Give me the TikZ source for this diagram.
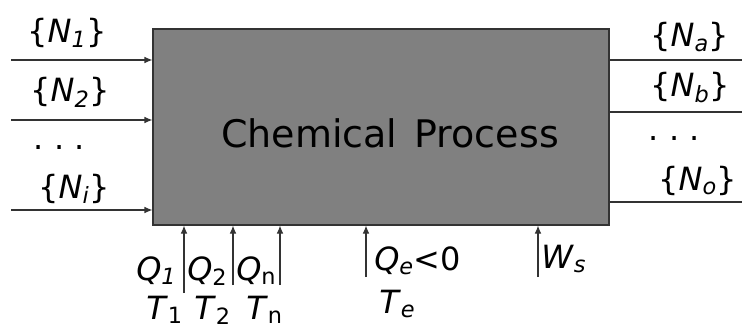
\documentclass[tikz,border=0pt]{standalone}
\usepackage{fontspec}
\setmainfont{DejaVu Sans}
\usetikzlibrary{arrows.meta}
\definecolor{linecol}{HTML}{333333}
\definecolor{boxcol}{HTML}{808080}
\tikzset{
  procbox/.style={draw=linecol, fill=boxcol, line width=0.8pt, inner sep=0pt},
  flow/.style={draw=linecol, line width=0.8pt, -{Latex[length=6pt,width=5pt]}},
  stream/.style={draw=linecol, line width=0.8pt},
  lab/.style={font=\fontsize{24}{27}\selectfont, inner sep=0pt, anchor=base west},
}
\newcommand{\spec}[2]{\{\textit{#1}\textsubscript{\textit{#2}}\}}
\newcommand{\qty}[2]{\textit{#1}\textsubscript{#2}}
\begin{document}
\begin{tikzpicture}[x=0.75pt, y=-0.75pt]
	\useasboundingbox (0,0) rectangle (742,328);
	\node (proc) [procbox, minimum width=342pt, minimum height=147pt] at (381,127) {};
	\node (title) [font=\fontsize{28.5}{32}\selectfont] at (390,133) {Chemical\hspace{0.45em}Process};
	
	% feeds in
	\coordinate (f1) at (11,60);
	\coordinate (f2) at (11,120);
	\coordinate (fi) at (11,210);
	\draw[flow] (f1) -- (f1 -| proc.west);
	\draw[flow] (f2) -- (f2 -| proc.west);
	\draw[flow] (fi) -- (fi -| proc.west);
	\node (n1) [lab] at (27,43) {\spec{N}{1}};
	\node (n2) [lab] at (30,102) {\spec{N}{2}};
	\node (nd) [lab] at (33,149) {.\,\,.\,\,.};
	\node (ni) [lab] at (38,198) {\spec{N}{i}};
	
	% products out
	\coordinate (pa) at (742,60);
	\coordinate (pb) at (742,112);
	\coordinate (po) at (742,202);
	\draw[stream] (pa -| proc.east) -- (pa);
	\draw[stream] (pb -| proc.east) -- (pb);
	\draw[stream] (po -| proc.east) -- (po);
	\node (na) [lab] at (650,47) {\spec{N}{a}};
	\node (nb) [lab] at (650,97) {\spec{N}{b}};
	\node (ndr) [lab] at (648,140) {.\,\,.\,\,.};
	\node (no) [lab] at (658,190) {\spec{N}{o}};
	
	% heat and work
	\coordinate (h1) at (184,293);
	\coordinate (h2) at (233,285);
	\coordinate (hn) at (280,285);
	\coordinate (he) at (366,277);
	\coordinate (ws) at (538,277);
	\draw[flow] (h1) -- (h1 |- proc.south);
	\draw[flow] (h2) -- (h2 |- proc.south);
	\draw[flow] (hn) -- (hn |- proc.south);
	\draw[flow] (he) -- (he |- proc.south);
	\draw[flow] (ws) -- (ws |- proc.south);
	\node (q1) [lab] at (136,280) {\textit{Q}\textsubscript{\textit{1}}};
	\node (q2) [lab] at (187,280) {\qty{Q}{2}};
	\node (qn) [lab] at (236,280) {\qty{Q}{n}};
	\node (t1) [lab] at (146,319) {\qty{T}{1}};
	\node (t2) [lab] at (194,319) {\qty{T}{2}};
	\node (tn) [lab] at (246,319) {\qty{T}{n}};
	\node (qe) [lab] at (374,270) {\textit{Q}\textsubscript{\textit{e}}<0};
	\node (te) [lab] at (379,313) {\textit{T}\textsubscript{\textit{e}}};
	\node (wsl) [lab] at (541,268) {\textit{W}\textsubscript{\textit{s}}};
\end{tikzpicture}
\end{document}
